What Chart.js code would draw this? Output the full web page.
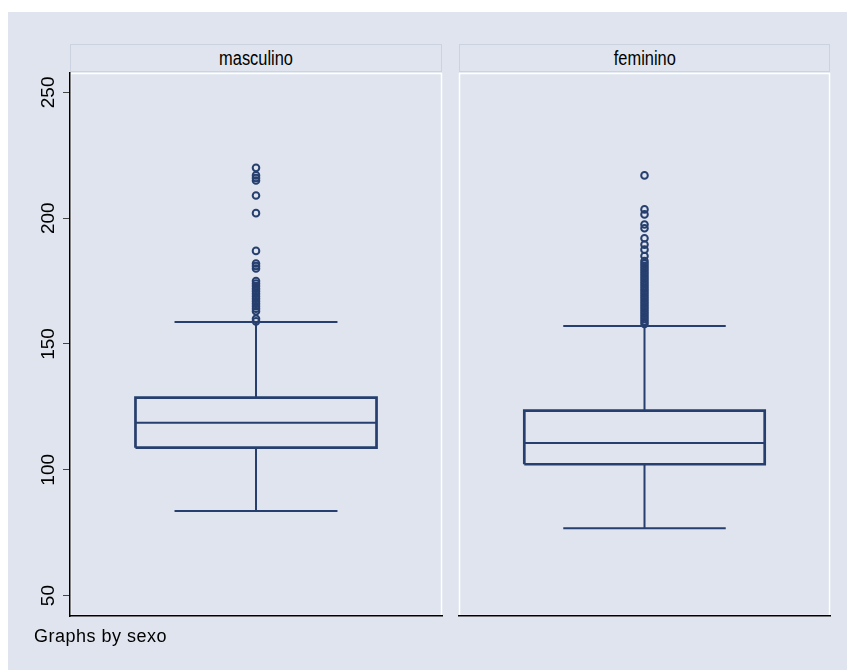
<!DOCTYPE html>
<html>
<head>
<meta charset="utf-8">
<script src="https://cdn.jsdelivr.net/npm/chart.js@4.4.0/dist/chart.umd.min.js"></script>
<style>
  body { margin: 0; background: #fff; width: 847px; height: 670px; position: relative; overflow: hidden;
         font-family: "Liberation Sans", Arial, sans-serif; }
  #fundo { position: absolute; left: 8px; top: 12px; right: 0; bottom: 0; background: #dfe4ee; }
  .cab { position: absolute; top: 44px; height: 28px; box-sizing: border-box; border: 1px solid #ccd3e0;
         text-align: center; line-height: 26px; color: #000; }
  .cab span { display: inline-block; font-size: 20px; transform: scaleX(0.82); }
  canvas { position: absolute; left: 0; top: 0; }
  #rodape { position: absolute; left: 34px; top: 626px; font-size: 18px; line-height: 20px; color: #000;
            letter-spacing: 0.5px; }
</style>
</head>
<body>
<div id="fundo"></div>
<div class="cab" style="left:70px;width:372px;"><span id="cab0"></span></div>
<div class="cab" style="left:459px;width:371px;"><span id="cab1"></span></div>
<canvas id="painel0" width="847" height="670"></canvas>
<canvas id="painel1" width="847" height="670"></canvas>
<div id="rodape">Graphs by sexo</div>
<script>
// resumo do boxplot por sexo
const sexos = ['masculino', 'feminino'];
const q1 = [108.8, 102.2];
const mediana = [118.7, 110.7];
const q3 = [128.7, 123.5];
const bigodeInf = [83.6, 76.8];
const bigodeSup = [158.7, 157.2];
const foraMasc = [220, 217, 216, 215, 209, 202, 187, 182, 181, 180, 175, 174, 173, 172, 171,
                  170, 169, 168, 167, 166, 165, 164, 163, 160, 159];
const foraFem = [217, 203.5, 201.5, 197.5, 196, 192, 189.5, 187.5, 185, 183, 182, 181, 180, 179,
                 178, 177, 176, 175, 174, 173, 172, 171, 170, 169, 168, 167, 166, 165, 164, 163,
                 162, 161, 160, 159, 158];
const foras = [foraMasc, foraFem];
const yTicks = [50, 100, 150, 200, 250];

const azul = '#263f6e';
const fonte = '"Liberation Sans", Arial, sans-serif';
const meiaCaixa = 0.324, meiaTampa = 0.219;

sexos.forEach((s, i) => { document.getElementById('cab' + i).textContent = s; });

// contorno branco da area de plotagem
const moldura = {
  id: 'moldura',
  beforeDraw(chart) {
    const { ctx, chartArea: a } = chart;
    ctx.save();
    ctx.strokeStyle = '#fff';
    ctx.lineWidth = 1.5;
    ctx.strokeRect(a.left + 0.5, a.top + 0.5, a.width - 1, a.height - 1);
    ctx.restore();
  }
};

function linha(pts, w) {
  return { data: pts, showLine: true, borderColor: azul, borderWidth: w, pointRadius: 0,
           fill: false, borderJoinStyle: 'miter', borderCapStyle: 'butt' };
}

function conjuntos(i) {
  const lx = 0.5 - meiaCaixa, rx = 0.5 + meiaCaixa;
  return [
    linha([{x: lx, y: q1[i]}, {x: rx, y: q1[i]}, {x: rx, y: q3[i]}, {x: lx, y: q3[i]}, {x: lx, y: q1[i]}], 2.7),
    linha([{x: lx, y: mediana[i]}, {x: rx, y: mediana[i]}], 2),
    linha([{x: 0.5, y: q3[i]}, {x: 0.5, y: bigodeSup[i]}], 2),
    linha([{x: 0.5, y: q1[i]}, {x: 0.5, y: bigodeInf[i]}], 2),
    linha([{x: 0.5 - meiaTampa, y: bigodeSup[i]}, {x: 0.5 + meiaTampa, y: bigodeSup[i]}], 2),
    linha([{x: 0.5 - meiaTampa, y: bigodeInf[i]}, {x: 0.5 + meiaTampa, y: bigodeInf[i]}], 2),
    {
      data: foras[i].map(v => ({x: 0.5, y: v})),
      showLine: false,
      pointRadius: 3.3,
      pointBorderWidth: 2,
      borderColor: azul,
      backgroundColor: 'rgba(0,0,0,0)'
    }
  ];
}

function painel(i) {
  const primeiro = i === 0;
  return new Chart(document.getElementById('painel' + i), {
    type: 'scatter',
    data: { datasets: conjuntos(i) },
    plugins: [moldura],
    options: {
      responsive: false,
      animation: false,
      layout: { padding: primeiro ? {left: 8, right: 405, top: 73, bottom: 54}
                                  : {left: 459, right: 17, top: 73, bottom: 54} },
      plugins: { legend: { display: false }, tooltip: { enabled: false } },
      scales: {
        x: {
          type: 'linear', min: 0, max: 1,
          ticks: { display: false },
          grid: { display: false, drawTicks: false },
          border: { display: true, color: '#000', width: 1.5 },
          afterFit: s => { s.height = 0; }
        },
        y: {
          display: primeiro,
          min: 41.9, max: 257.7,
          afterBuildTicks: s => { s.ticks = yTicks.map(v => ({ value: v })); },
          afterFit: s => { s.width = primeiro ? 62 : 0; },
          ticks: { font: { size: 19, family: fonte }, color: '#000', minRotation: 90, maxRotation: 90,
                   crossAlign: 'center', padding: -2 },
          grid: { drawOnChartArea: false, drawTicks: true, tickLength: 7, color: '#444', tickWidth: 1 },
          border: { display: true, color: '#000', width: 1.5 }
        }
      }
    }
  });
}

painel(0);
painel(1);
</script>
</body>
</html>
